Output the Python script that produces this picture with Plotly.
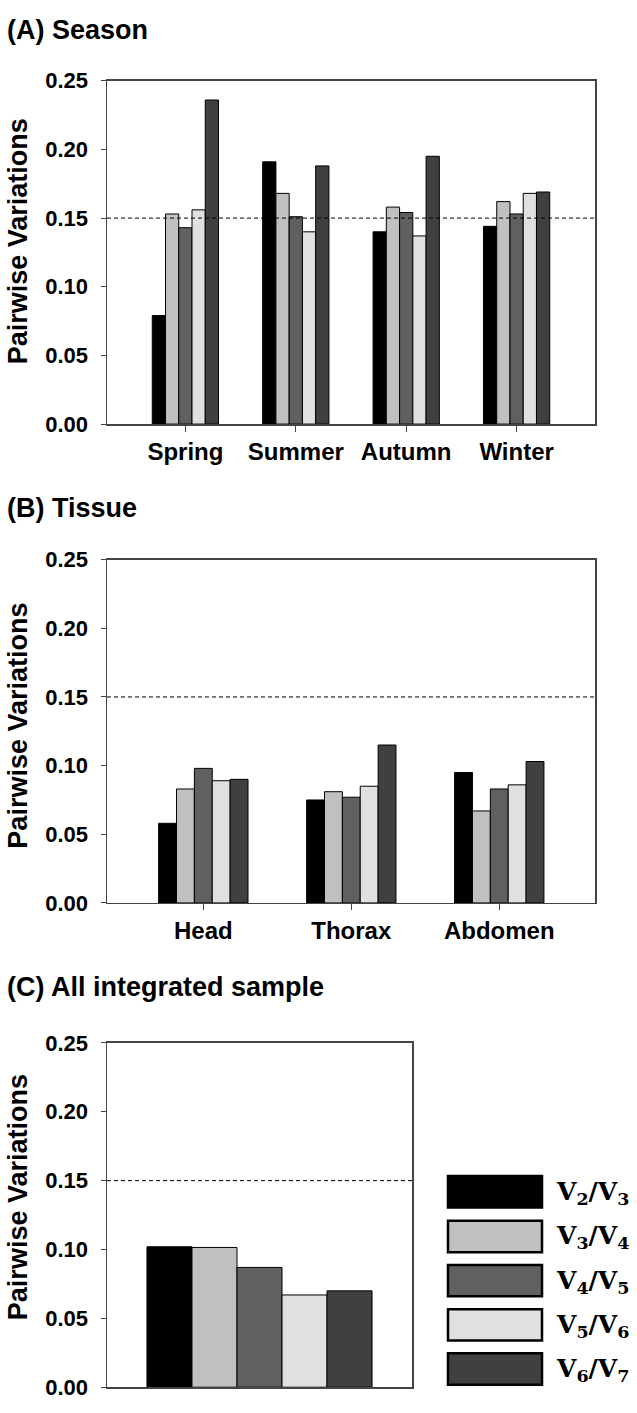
import plotly.graph_objects as go

# ---------------- data ----------------
pair_labels = ["V<sub>2</sub>/V<sub>3</sub>", "V<sub>3</sub>/V<sub>4</sub>",
               "V<sub>4</sub>/V<sub>5</sub>", "V<sub>5</sub>/V<sub>6</sub>",
               "V<sub>6</sub>/V<sub>7</sub>"]
pair_colors = ["#000000", "#c0c0c0", "#606060", "#e0e0e0", "#404040"]

seasons = ["Spring", "Summer", "Autumn", "Winter"]
season_v23 = [0.079, 0.191, 0.140, 0.144]
season_v34 = [0.153, 0.168, 0.158, 0.162]
season_v45 = [0.143, 0.151, 0.154, 0.153]
season_v56 = [0.156, 0.140, 0.137, 0.168]
season_v67 = [0.236, 0.188, 0.195, 0.169]

tissues = ["Head", "Thorax", "Abdomen"]
tissue_v23 = [0.058, 0.075, 0.095]
tissue_v34 = [0.083, 0.081, 0.067]
tissue_v45 = [0.098, 0.077, 0.083]
tissue_v56 = [0.089, 0.085, 0.086]
tissue_v67 = [0.090, 0.115, 0.103]

integrated = ["All"]
all_v23 = [0.102]
all_v34 = [0.1015]
all_v45 = [0.087]
all_v56 = [0.067]
all_v67 = [0.070]

threshold = 0.15
y_ticks = [0.00, 0.05, 0.10, 0.15, 0.20, 0.25]

panel_titles = ["(A) Season", "(B) Tissue", "(C) All integrated sample"]
y_title = "Pairwise Variations"

# ---------------- layout helpers ----------------
W, H = 637, 1413
def px(x):
    return x / W
def py(y):
    return 1 - y / H

FONT = "Liberation Sans, Arial, sans-serif"
fig = go.Figure()

panels = [
    dict(cats=seasons, series=[season_v23, season_v34, season_v45, season_v56, season_v67],
         xa="x", ya="y", group=0.60, xr=[-0.71, 3.71], dom_x=[107, 595], dom_y=[70, 419.5]),
    dict(cats=tissues, series=[tissue_v23, tissue_v34, tissue_v45, tissue_v56, tissue_v67],
         xa="x2", ya="y2", group=0.604, xr=[-0.651, 2.647], dom_x=[107, 595], dom_y=[557.5, 907]),
    dict(cats=integrated, series=[all_v23, all_v34, all_v45, all_v56, all_v67],
         xa="x3", ya="y3", group=0.738, xr=[-0.5, 0.5], dom_x=[107, 412], dom_y=[1049.5, 1400]),
]

for p in panels:
    n = len(p["series"])
    w = p["group"] / n
    for i, vals in enumerate(p["series"]):
        fig.add_trace(go.Bar(
            x=p["cats"], y=vals, name=pair_labels[i],
            marker=dict(color=pair_colors[i], line=dict(color="#000000", width=1)),
            width=w, offset=-p["group"] / 2 + i * w,
            xaxis=p["xa"], yaxis=p["ya"], showlegend=False,
        ))

layout_axes = {}
for k, p in enumerate(panels):
    sfx = "" if k == 0 else str(k + 1)
    layout_axes["xaxis" + sfx] = dict(
        domain=[px(p["dom_x"][0]), px(p["dom_x"][1])],
        anchor="y" + sfx, type="category", range=p["xr"],
        showline=True, linecolor="#444444", linewidth=1.5, mirror=True,
        ticks="outside" if k < 2 else "", ticklen=6, tickcolor="#444444",
        showticklabels=(k < 2), showgrid=False, zeroline=False,
        tickfont=dict(family=FONT, size=24, color="#000000", weight="bold"),
        fixedrange=True,
    )
    layout_axes["yaxis" + sfx] = dict(
        domain=[py(p["dom_y"][1]), py(p["dom_y"][0])],
        anchor="x" + sfx, range=[0, 0.25], tickvals=y_ticks, tickformat=".2f",
        showline=True, linecolor="#444444", linewidth=1.5, mirror=True,
        ticks="outside", ticklen=5, tickcolor="#444444",
        showgrid=False, zeroline=False, ticklabelstandoff=8,
        tickfont=dict(family=FONT, size=22, color="#000000", weight="bold"),
        fixedrange=True,
    )

shapes = []
for k, p in enumerate(panels):
    sfx = "" if k == 0 else str(k + 1)
    shapes.append(dict(type="line", xref=("x" + sfx) + " domain", yref="y" + sfx,
                       x0=0, x1=1, y0=threshold, y1=threshold,
                       line=dict(color="#000000", width=1, dash="4px,3px")))

annotations = []
title_y = [18, 505, 993]
for t, yy in zip(panel_titles, title_y):
    annotations.append(dict(text="<b>" + t + "</b>", xref="paper", yref="paper",
                            x=px(5), y=py(yy), xanchor="left", yanchor="middle",
                            showarrow=False, font=dict(family=FONT, size=27, color="#000000")))
ytitle_centers = [233.5, 726.5, 1206.5]
for yy in ytitle_centers:
    annotations.append(dict(text="<b>" + y_title + "</b>", xref="paper", yref="paper",
                            x=px(18), y=py(yy), xanchor="center", yanchor="middle",
                            textangle=-90, showarrow=False,
                            font=dict(family=FONT, size=27, color="#000000")))

# legend drawn as boxes + labels
leg_x0, leg_x1 = 448, 542
leg_tops = [1185, 1230.5, 1275.5, 1320.5, 1365.5]
leg_h = 32
for i, top in enumerate(leg_tops):
    shapes.append(dict(type="rect", xref="paper", yref="paper",
                       x0=px(leg_x0), x1=px(leg_x1), y0=py(top + leg_h), y1=py(top),
                       fillcolor=pair_colors[i], line=dict(color="#000000", width=2.5)))
    annotations.append(dict(text="<b>" + pair_labels[i] + "</b>", xref="paper", yref="paper",
                            x=px(554), y=py(top + leg_h / 2 + 1), xanchor="left", yanchor="middle",
                            showarrow=False,
                            font=dict(family="DejaVu Serif, Liberation Serif, serif", size=25,
                                      color="#000000")))

fig.update_layout(
    width=W, height=H, autosize=False,
    margin=dict(l=0, r=0, t=0, b=0),
    paper_bgcolor="#ffffff", plot_bgcolor="#ffffff",
    barmode="overlay", showlegend=False, hovermode=False,
    shapes=shapes, annotations=annotations,
    **layout_axes,
)

fig.write_html("out.html", config={"displayModeBar": False, "staticPlot": True},
               post_script="document.body.style.margin='0';document.body.style.overflow='hidden';")
